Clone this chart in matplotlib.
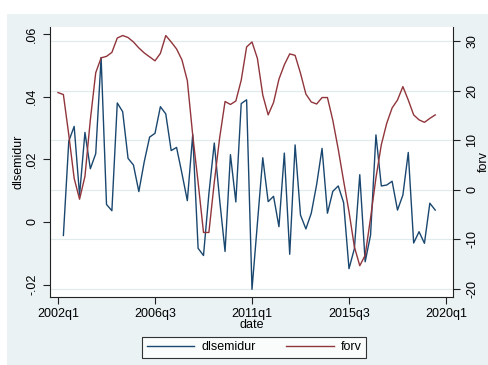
import numpy as np
import matplotlib
matplotlib.use("Agg")
import matplotlib.pyplot as plt
from matplotlib.patches import Rectangle

plt.rcParams['font.family'] = ['Liberation Sans', 'DejaVu Sans']

# Quarterly axis: index 0 = 2002q1
start_year = 2002
n_quarters = 71  # 2002q1 .. 2019q3

# dlsemidur starts one quarter later (first difference)
dlsemidur = [
    -0.0043, 0.0258, 0.0305, 0.0086, 0.0286, 0.0170, 0.0218, 0.0525, 0.0056, 0.0036,
    0.0380, 0.0352, 0.0203, 0.0182, 0.0097, 0.0192, 0.0271, 0.0283, 0.0368, 0.0345,
    0.0228, 0.0238, 0.0155, 0.0068, 0.0279, -0.0084, -0.0107, 0.0090, 0.0252, 0.0070,
    -0.0094, 0.0215, 0.0064, 0.0378, 0.0390, -0.0215, -0.0005, 0.0205, 0.0065, 0.0082,
    -0.0015, 0.0220, -0.0103, 0.0246, 0.0022, -0.0022, 0.0028, 0.0120, 0.0235, 0.0028,
    0.0098, 0.0115, 0.0062, -0.0149, -0.0085, 0.0151, -0.0127, -0.0042, 0.0278, 0.0115,
    0.0118, 0.0130, 0.0038, 0.0086, 0.0222, -0.0067, -0.0031, -0.0068, 0.0060, 0.0038,
]
forv = [
    19.6, 19.2, 11.1, 2.3, -1.9, 2.7, 14.1, 23.6, 26.6, 26.9,
    27.7, 30.6, 31.1, 30.7, 29.8, 28.6, 27.6, 26.8, 26.0, 27.5,
    31.1, 29.8, 28.4, 26.2, 22.0, 11.0, 1.5, -8.6, -8.6, 1.5,
    10.5, 17.8, 17.2, 17.9, 22.1, 28.8, 29.8, 26.5, 19.1, 15.1,
    17.6, 22.3, 25.2, 27.4, 27.1, 23.5, 19.3, 17.7, 17.3, 18.6,
    18.6, 14.0, 8.2, 1.8, -4.4, -11.5, -15.3, -13.2, -5.7, 2.4,
    9.1, 13.4, 16.5, 18.1, 20.8, 18.1, 15.1, 14.1, 13.6, 14.4,
    15.1,
]

x_tick_pos = [0, 18, 36, 54, 72]
x_tick_labels = ["2002q1", "2006q3", "2011q1", "2015q3", "2020q1"]
left_ticks = [-0.02, 0.0, 0.02, 0.04, 0.06]
left_labels = ["-.02", "0", ".02", ".04", ".06"]
right_ticks = [-20, -10, 0, 10, 20, 30]
right_labels = ["-20", "-10", "0", "10", "20", "30"]

navy = "#1a476f"
maroon = "#90353b"
bg = "#eaf2f3"
grid_col = "#e1eaec"
axis_col = "#222222"

W, H = 489, 365
fig = plt.figure(figsize=(W / 100, H / 100), dpi=100)
fig.patch.set_facecolor("white")
fig.add_artist(Rectangle((7 / W, 0), 1 - 7 / W, 1 - 14 / H, transform=fig.transFigure,
                         facecolor=bg, edgecolor="none", zorder=0))

left_px, right_px, top_px, bottom_px = 50, 453, 27, 297
ax = fig.add_axes([left_px / W, 1 - bottom_px / H,
                   (right_px - left_px) / W, (bottom_px - top_px) / H])
ax.set_facecolor("white")
ax2 = ax.twinx()

t_all = np.arange(n_quarters)
ax.plot(t_all[1:], dlsemidur, color=navy, lw=1.0, zorder=3)
ax2.plot(t_all, forv, color=maroon, lw=1.0, zorder=3)

ax.set_xlim(-1.485, 73.3)
ax.set_ylim(-0.02394, 0.06224)
ax2.set_ylim(-21.61, 32.82)

# horizontal grid at the right-axis ticks, drawn beneath both series
lo1, hi1 = ax.get_ylim()
lo2, hi2 = ax2.get_ylim()
for v in right_ticks:
    ax.axhline(lo1 + (v - lo2) / (hi2 - lo2) * (hi1 - lo1), color=grid_col, lw=0.9, zorder=1)

ax.set_xticks(x_tick_pos)
ax.set_xticklabels(x_tick_labels)
ax.set_yticks(left_ticks)
ax.set_yticklabels(left_labels, rotation=90, va="center")
ax2.set_yticks(right_ticks)
ax2.set_yticklabels(right_labels, rotation=90, va="center")

fs = 9
for a in (ax, ax2):
    a.tick_params(length=5, width=0.8, color=axis_col, labelsize=fs, labelcolor="black", pad=3)
    for s in a.spines.values():
        s.set_color(axis_col)
        s.set_linewidth(0.8)
    a.spines["top"].set_visible(False)
ax.tick_params(axis="y", pad=3.5)
ax2.tick_params(axis="y", pad=4.5)
ax2.spines["left"].set_visible(False)
ax2.spines["bottom"].set_visible(False)
ax.spines["right"].set_visible(False)

ax.set_xlabel("date", fontsize=fs, labelpad=-1)
ax.set_ylabel("dlsemidur", fontsize=fs, labelpad=1)
ax2.set_ylabel("forv", fontsize=fs, labelpad=-0.5)

h1 = plt.Line2D([], [], color=navy, lw=1.0)
h2 = plt.Line2D([], [], color=maroon, lw=1.0)
leg = fig.legend([h1, h2], ["dlsemidur", "forv"], ncol=2, loc="center",
                 bbox_to_anchor=((143 + 366) / 2 / W, 1 - 347.5 / H),
                 fontsize=fs, frameon=True, fancybox=False, edgecolor="black",
                 handlelength=3.8, columnspacing=2.4, handletextpad=0.6,
                 borderpad=0.35, borderaxespad=0)
leg.get_frame().set_linewidth(0.8)
leg.get_frame().set_facecolor("white")

fig.savefig("out.png", dpi=100)
